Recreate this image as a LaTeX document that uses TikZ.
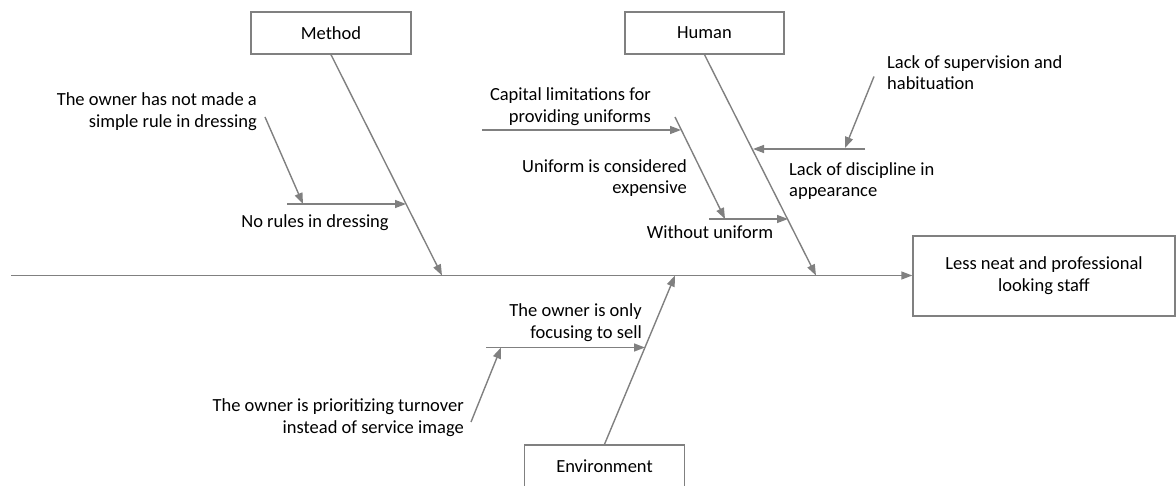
\documentclass[tikz,border=0pt]{standalone}
\usepackage{fontspec}
\setmainfont{Carlito}
\usetikzlibrary{arrows.meta}
\definecolor{bonegray}{RGB}{128,128,128}

\begin{document}
\begin{tikzpicture}[x=1pt,y=1pt,
    bone/.style={draw=bonegray,line width=1.4pt,-{Triangle[length=11pt,width=8pt]}},
    catbox/.style={draw=bonegray,line width=1.4pt,minimum width=160pt,minimum height=42pt,inner sep=0pt,font=\fontsize{18.5}{21.7}\selectfont},
    cause/.style={inner sep=0pt,font=\fontsize{18.5}{21.7}\selectfont}]
        \clip (0,0) rectangle (1176,485);

        % effect and spine
        \node[catbox,minimum width=262pt,minimum height=80pt,align=center] (effect) at (1044,209) {Less neat and professional\\looking staff};
        \coordinate (tail) at (11,209.5);
        \draw[bone] (tail) -- (effect.west |- tail);

        % category boxes
        \node[catbox] (method) at (331,452) {Method};
        \node[catbox,minimum width=159pt] (human) at (704.5,452) {Human};
        \node[catbox] (environ) at (604.5,19) {Environment};

        % main bones
        \coordinate (m0) at (442,209.5);
        \coordinate (h0) at (816,209.5);
        \coordinate (e0) at (675,209.5);
        \draw[bone] (method.south) -- (m0);
        \draw[bone] (human.south) -- (h0);
        \draw[bone] (environ.north) -- (e0);

        % method causes
        \coordinate (m1a) at (287,281);
        \coordinate (m1b) at (406,281);
        \draw[bone] (m1a) -- (m1b);
        \node[cause] (norules) at (315,262) {No rules in dressing};
        \node[cause,anchor=east,align=right] (simplerule) at (257,373) {The owner has not made a\\simple rule in dressing};
        \coordinate (m2a) at (265,368);
        \coordinate (m2b) at (303,281);
        \draw[bone] (m2a) -- (m2b);

        % human causes
        \coordinate (h1a) at (865,336);
        \coordinate (h1b) at (753,336);
        \draw[bone] (h1a) -- (h1b);
        \node[cause,anchor=west,align=left] (discipline) at (789,304) {Lack of discipline in\\appearance};
        \node[cause,anchor=west,align=left] (supervision) at (887,412.5) {Lack of supervision and\\habituation};
        \coordinate (h2a) at (874,408.5);
        \coordinate (h2b) at (845,337);
        \draw[bone] (h2a) -- (h2b);

        \coordinate (h3a) at (709,266);
        \coordinate (h3b) at (788,266);
        \draw[bone] (h3a) -- (h3b);
        \node[cause] (nouniform) at (710,253) {Without uniform};
        \coordinate (h4a) at (675,368);
        \coordinate (h4b) at (725,266);
        \draw[bone] (h4a) -- (h4b);
        \node[cause,anchor=east,align=right] (expensive) at (687,307) {Uniform is considered\\expensive};
        \coordinate (h5a) at (482,355);
        \coordinate (h5b) at (681,355);
        \draw[bone] (h5a) -- (h5b);
        \node[cause,anchor=east,align=right] (capital) at (651,378) {Capital limitations for\\providing uniforms};

        % environment causes
        \coordinate (e1a) at (486,137.5);
        \coordinate (e1b) at (645,137.5);
        \draw[bone] (e1a) -- (e1b);
        \node[cause,anchor=east,align=right] (onlysell) at (642,162) {The owner is only\\focusing to sell};
        \coordinate (e2a) at (471,63);
        \coordinate (e2b) at (501,137.5);
        \draw[bone] (e2a) -- (e2b);
        \node[cause,anchor=east,align=right] (turnover) at (464,67.5) {The owner is prioritizing turnover\\instead of service image};
\end{tikzpicture}
\end{document}
